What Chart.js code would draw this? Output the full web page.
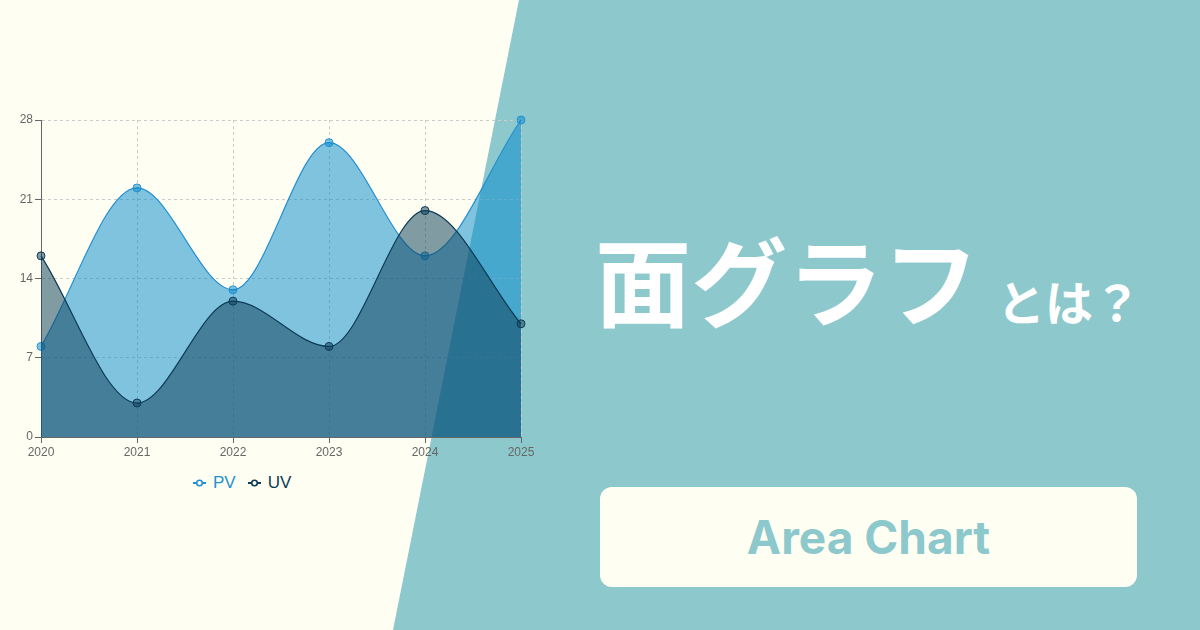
<!DOCTYPE html>
<html lang="ja">
<head>
<meta charset="utf-8">
<script src="https://cdn.jsdelivr.net/npm/chart.js@4.4.1/dist/chart.umd.min.js"></script>
<style>
  html, body { margin: 0; padding: 0; }
  body { width: 1200px; height: 630px; position: relative; overflow: hidden; background: #fefff2; font-family: "Liberation Sans", Arial, sans-serif; }
  .teal { position: absolute; inset: 0; background: #8dc8cc; clip-path: polygon(519px 0, 1200px 0, 1200px 630px, 393px 630px); }
  .chart-box { position: absolute; left: 0; top: 100px; width: 560px; height: 360px; }
  .legend { position: absolute; left: 193px; top: 473px; display: flex; gap: 12px; font-size: 17px; }
  .legend span { display: flex; align-items: center; gap: 7px; }
  .title { position: absolute; color: #fff; font-family: "Noto Sans CJK JP", sans-serif; font-weight: 700; white-space: nowrap; }
  .t1 { left: 595px; top: 216px; font-size: 96px; line-height: 1.3; }
  .t2 { left: 997px; top: 269px; font-size: 48px; line-height: 1.3; }
  .button { position: absolute; left: 600px; top: 487px; width: 537px; height: 100px; background: #fefff2; border-radius: 12px;
    display: flex; align-items: center; justify-content: center; color: #8dc8cc; font-family: Inter, sans-serif; font-weight: 700; font-size: 46px; }
</style>
</head>
<body>
<div class="teal"></div>
<div class="chart-box"><canvas id="areaChart" width="560" height="360"></canvas></div>
<div class="legend" id="legend"></div>
<div class="title t1">面グラフ</div>
<div class="title t2">とは？</div>
<div class="button">Area Chart</div>
<script>
const years = ['2020', '2021', '2022', '2023', '2024', '2025'];
const pvValues = [8, 22, 13, 26, 16, 28];
const uvValues = [16, 3, 12, 8, 20, 10];
const yTicks = [0, 7, 14, 21, 28];

const series = [
    { label: 'PV', data: pvValues, line: '#2590d0', fill: 'rgba(0,136,204,0.5)', order: 1 },
    { label: 'UV', data: uvValues, line: '#0d3a55', fill: 'rgba(14,64,88,0.52)', order: 0 }
];

// legend as html so the text can take each series colour
document.getElementById('legend').innerHTML = series.map(s => `
    <span style="color:${s.line}">
        <svg width="13" height="8"><line x1="0" y1="4" x2="13" y2="4" stroke="${s.line}" stroke-width="2"/><circle cx="6.5" cy="4" r="2.8" fill="#fefff2" stroke="${s.line}" stroke-width="1.6"/></svg>
        ${s.label}
    </span>`).join('');

const ctx = document.getElementById('areaChart').getContext('2d');
new Chart(ctx, {
    type: 'line',
    data: {
        labels: years,
        datasets: series.map(s => ({
            label: s.label,
            data: s.data,
            order: s.order,
            clip: false,
            borderColor: s.line,
            backgroundColor: s.fill,
            borderWidth: 1.2,
            fill: 'origin',
            cubicInterpolationMode: 'monotone',
            pointRadius: 4,
            pointBorderWidth: 1,
            pointBackgroundColor: s.fill,
            pointBorderColor: s.line
        }))
    },
    options: {
        responsive: false,
        animation: false,
        layout: { padding: { top: 20, right: 39, left: 0, bottom: 0 } },
        plugins: { legend: { display: false }, tooltip: { enabled: false } },
        scales: {
            x: {
                grid: { color: '#cccccc', tickColor: '#666666', tickLength: 6 },
                border: { display: true, color: '#666666', dash: [3, 3] },
                ticks: { color: '#666666', font: { size: 12 }, padding: 2, maxRotation: 0 },
                afterFit: s => { s.height = 23; }
            },
            y: {
                min: 0,
                max: 28,
                afterBuildTicks: s => { s.ticks = yTicks.map(v => ({ value: v })); },
                grid: { color: '#cccccc', tickColor: '#666666', tickLength: 6 },
                border: { display: true, color: '#666666', dash: [3, 3] },
                ticks: { color: '#666666', font: { size: 12 }, padding: 2 },
                afterFit: s => { s.width = 41; }
            }
        }
    }
});
</script>
</body>
</html>
